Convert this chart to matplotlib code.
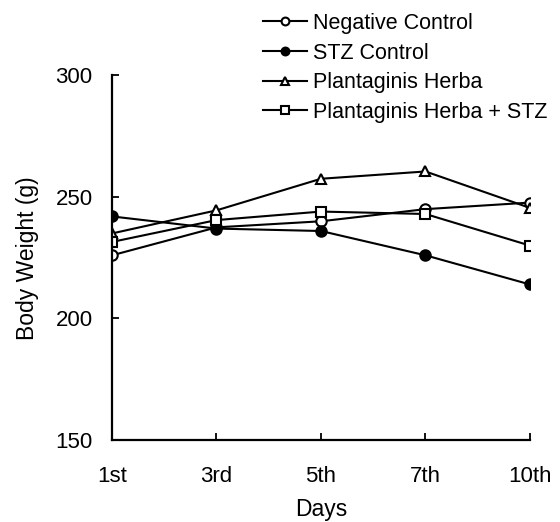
import numpy as np
import matplotlib.pyplot as plt

plt.rcParams['font.family'] = ['Liberation Sans', 'DejaVu Sans']

days = ['1st', '3rd', '5th', '7th', '10th']
negative_control = [226, 237.5, 240, 245, 247.7]
stz_control = [242, 237, 236, 226, 214]
plantaginis = [235, 244.5, 257.5, 260.5, 245.5]
plantaginis_stz = [231.5, 240.5, 244, 243, 230]


def plot_body_weight():
    fig = plt.figure(figsize=(5.6, 5.22), dpi=100)
    ax = fig.add_axes([0.2, 0.1571, 0.7464, 0.6983])

    x = np.arange(len(days))
    common = dict(color='black', linewidth=1.5, markersize=7.5, markeredgewidth=1.5)
    ax.plot(x, negative_control, marker='o', markerfacecolor='white', label='Negative Control', **common)
    ax.plot(x, stz_control, marker='o', markerfacecolor='black', label='STZ Control', **common)
    ax.plot(x, plantaginis, marker='^', markerfacecolor='white', label='Plantaginis Herba', **common)
    ax.plot(x, plantaginis_stz, marker='s', markerfacecolor='white', label='Plantaginis Herba + STZ', **common)

    ax.set_xlim(0, 4)
    ax.set_ylim(150, 300)
    ax.set_xticks(x)
    ax.set_xticklabels(days)
    ax.set_yticks([150, 200, 250, 300])

    ax.spines['top'].set_visible(False)
    ax.spines['right'].set_visible(False)
    ax.spines['left'].set_linewidth(1.6)
    ax.spines['bottom'].set_linewidth(1.6)
    ax.tick_params(direction='in', length=5, width=1.3, labelsize=16)
    ax.tick_params(axis='x', pad=19)
    ax.tick_params(axis='y', pad=14)

    ax.set_xlabel('Days', fontsize=16.5)
    ax.set_ylabel('Body Weight (g)', fontsize=16.5)
    ax.xaxis.set_label_coords(0.5, -0.16)
    ax.yaxis.set_label_coords(-0.175, 0.5)

    fig.legend(loc='upper left', bbox_to_anchor=(263 / 560, 1 - 13 / 522), frameon=False,
               fontsize=15.5, handlelength=2.05, handletextpad=0.28,
               labelspacing=0.4, borderpad=0, borderaxespad=0, markerscale=0.75)

    fig.savefig('out.png', dpi=100)


def main():
    plot_body_weight()

if __name__ == "__main__":
    main()
